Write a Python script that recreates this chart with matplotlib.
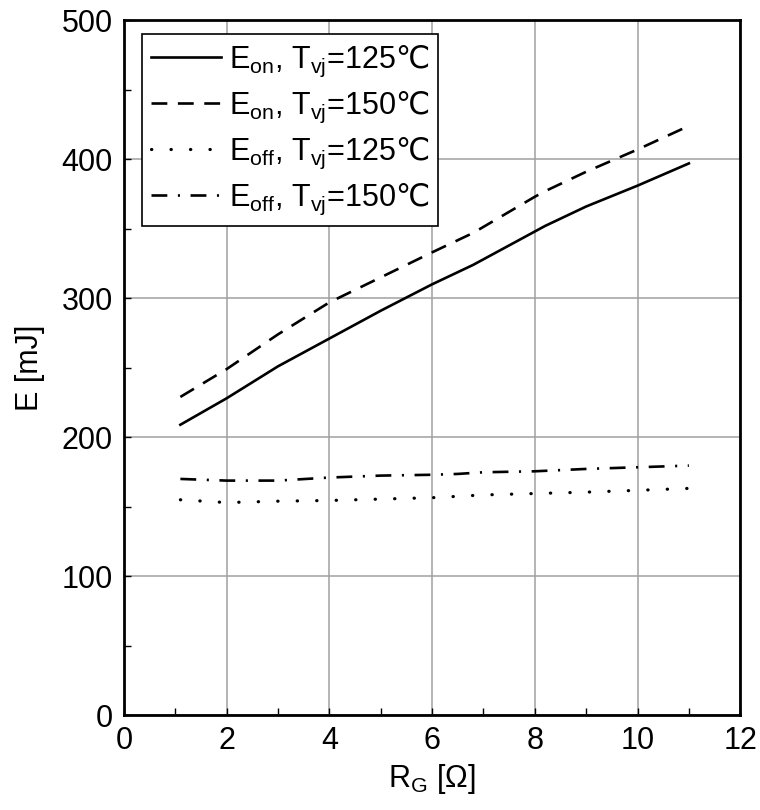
import matplotlib
matplotlib.use("Agg")
import matplotlib.pyplot as plt
from matplotlib.ticker import MultipleLocator

# values
rg = [1.1, 2, 3, 4, 5, 6, 6.8, 8, 8.2, 9, 10, 11]
eon_125 = [209, 228, 251, 271, 291, 310, 324, 348, 352, 366, 381, 397]
eon_150 = [229, 249, 274, 297, 315, 333, 347, 373, 377, 391, 407, 424]

rg_off = [1.1, 2, 3, 4, 5, 6, 6.5, 7, 8, 9, 10, 11]
eoff_125 = [155, 153, 154, 154.5, 155.5, 156.5, 157.5, 158.5, 159.5, 160.5, 161.8, 163.2]
eoff_150 = [170, 168.8, 168.8, 171, 172.4, 173, 173.6, 174.8, 175.5, 177.2, 178.4, 179.6]

labels = [
    "E$_{\\mathrm{on}}$, T$_{\\mathrm{vj}}$=125$\\mathsf{℃}$",
    "E$_{\\mathrm{on}}$, T$_{\\mathrm{vj}}$=150$\\mathsf{℃}$",
    "E$_{\\mathrm{off}}$, T$_{\\mathrm{vj}}$=125$\\mathsf{℃}$",
    "E$_{\\mathrm{off}}$, T$_{\\mathrm{vj}}$=150$\\mathsf{℃}$",
]

plt.rcParams['font.family'] = ['Liberation Sans', 'DejaVu Sans']
plt.rcParams['mathtext.fontset'] = 'custom'
plt.rcParams['mathtext.rm'] = 'Liberation Sans'
plt.rcParams['mathtext.it'] = 'Liberation Sans'
plt.rcParams['mathtext.sf'] = 'Noto Sans CJK SC'
plt.rcParams['font.size'] = 22

fig = plt.figure(figsize=(7.6, 8.1), dpi=100)
ax = fig.add_axes([0.163, 0.117, 0.811, 0.858])

lw = 1.9
ax.plot(rg, eon_125, color='black', lw=lw, linestyle='-', label=labels[0])
ax.plot(rg, eon_150, color='black', lw=lw, linestyle=(0, (6, 4)), label=labels[1])
ax.plot(rg_off, eoff_125, color='black', lw=2.3, linestyle=(0, (0.1, 6)),
        dash_capstyle='round', label=labels[2])
ax.plot(rg_off, eoff_150, color='black', lw=lw, linestyle=(0, (6, 4, 0.8, 4)),
        label=labels[3])

ax.set_xlim(0, 12)
ax.set_ylim(0, 500)
ax.xaxis.set_major_locator(MultipleLocator(2))
ax.xaxis.set_minor_locator(MultipleLocator(1))
ax.yaxis.set_major_locator(MultipleLocator(100))
ax.yaxis.set_minor_locator(MultipleLocator(50))
ax.grid(True, which='major', color='#a0a0a0', lw=1.1)
ax.set_axisbelow(True)
ax.tick_params(which='both', direction='in', length=5, width=1, colors='black')
ax.tick_params(which='major', pad=8)
for s in ax.spines.values():
    s.set_linewidth(2)

ax.set_xlabel("R$_{\\mathrm{G}}$ [Ω]", labelpad=4)
ax.set_ylabel("E [mJ]", labelpad=12)

leg = ax.legend(loc='upper left', bbox_to_anchor=(0.029, 0.98), fancybox=False,
                framealpha=1, edgecolor='black', handlelength=2.3,
                handletextpad=0.25, labelspacing=0.36, borderpad=0.3,
                borderaxespad=0)
leg.get_frame().set_linewidth(1.2)

fig.savefig("out.png", dpi=100)
